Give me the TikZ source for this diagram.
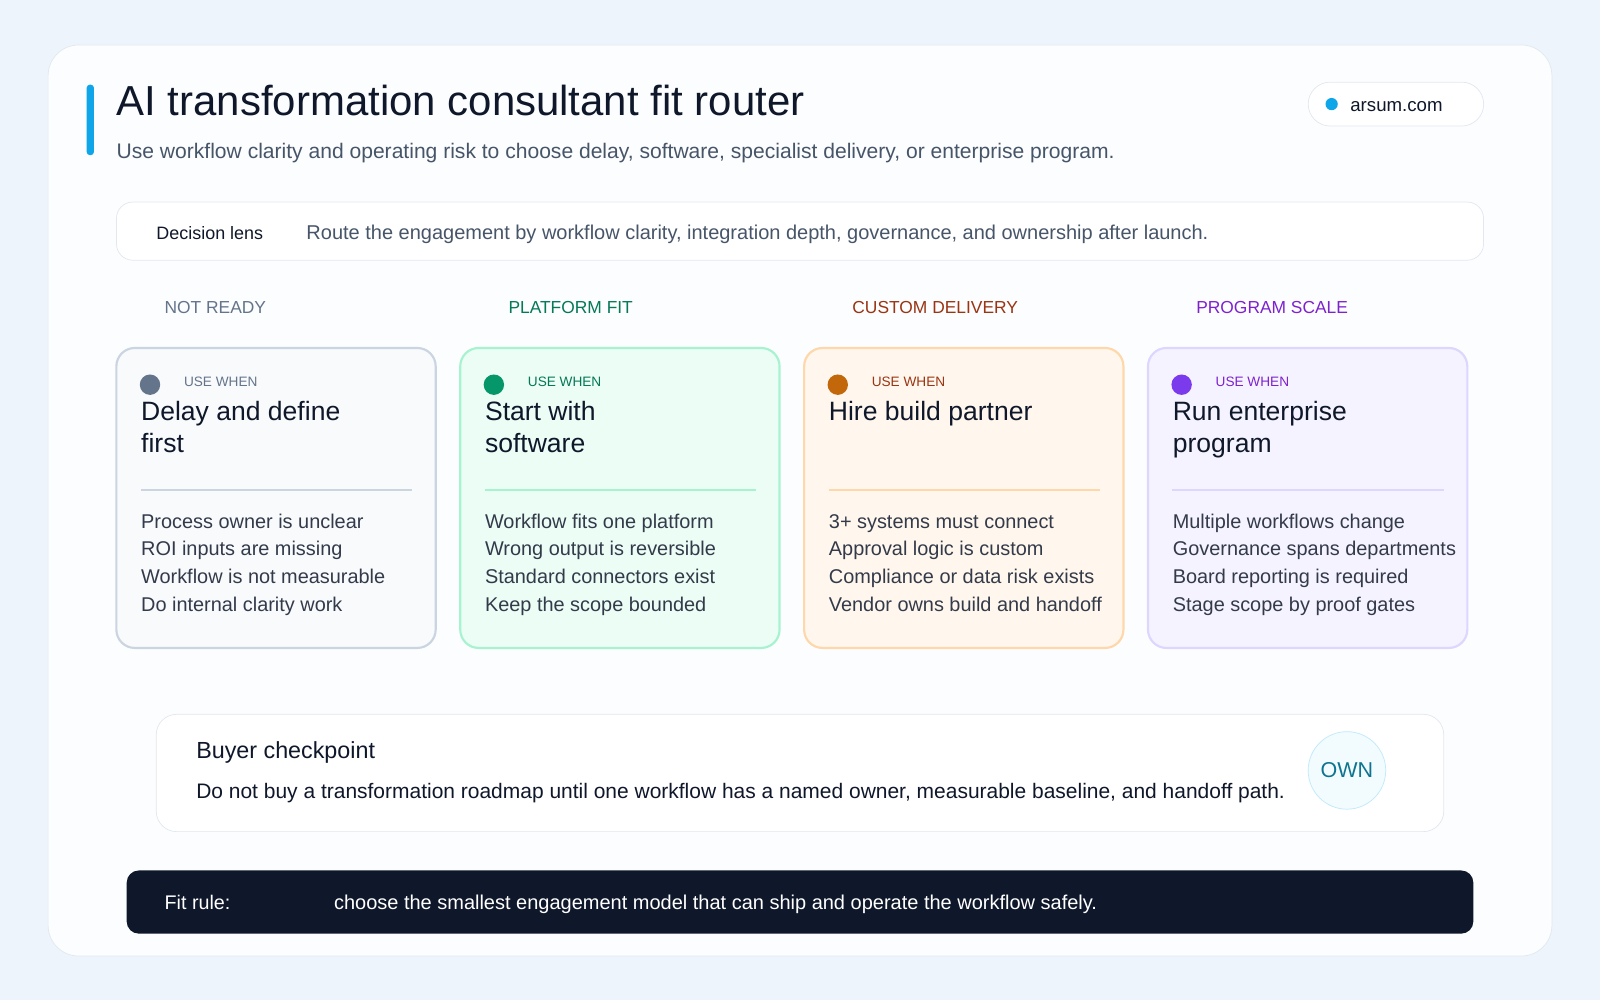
\documentclass[tikz,border=0pt]{standalone}
\usepackage{fontspec}
\setmainfont{Liberation Sans}
\definecolor{bg}{HTML}{EEF4FB}
\definecolor{ink}{HTML}{0F172A}
\definecolor{sub}{HTML}{475569}
\definecolor{line}{HTML}{E2E8F0}
\definecolor{sky}{HTML}{0EA5E9}
\definecolor{gF}{HTML}{F8FAFC}\definecolor{gB}{HTML}{CBD5E1}\definecolor{gD}{HTML}{64748B}
\definecolor{nF}{HTML}{ECFDF5}\definecolor{nB}{HTML}{A7F3D0}\definecolor{nD}{HTML}{059669}
\definecolor{oF}{HTML}{FFF7ED}\definecolor{oB}{HTML}{FED7AA}\definecolor{oD}{HTML}{C2680A}\definecolor{oT}{HTML}{9A3412}
\definecolor{pF}{HTML}{F5F3FF}\definecolor{pB}{HTML}{DDD6FE}\definecolor{pD}{HTML}{7C3AED}\definecolor{pT}{HTML}{7E22CE}
\definecolor{gT}{HTML}{64748B}\definecolor{nT}{HTML}{047857}
\definecolor{tealT}{HTML}{0E7490}
\tikzset{
  txt/.style={anchor=west,inner sep=0pt,text=ink,text height=0.72em,text depth=0.2em},
  body/.style={txt,font=\fontsize{11.1}{13}\selectfont,text=ink!85},
  head/.style={txt,font=\fontsize{9.7}{12}\selectfont},
}
\begin{document}
\begin{tikzpicture}[x=0.02cm,y=-0.02cm]
\fill[bg] (0,0) rectangle (1568,980);
\useasboundingbox (0,0) rectangle (1568,980);
\node[draw=line,fill=white!60!gF,rounded corners=0.6cm,minimum width=29.48cm,minimum height=17.86cm,inner sep=0pt] (panel) at (784,490.5) {};
\fill[sky,rounded corners=0.06cm] (85,83) rectangle (92,152);
\node[txt,font=\fontsize{23.4}{27}\selectfont] (title) at (114,109) {AI transformation consultant fit router};
\node[txt,font=\fontsize{11.75}{14}\selectfont,text=sub] (subt) at (114,151) {Use workflow clarity and operating risk to choose delay, software, specialist delivery, or enterprise program.};
\node[draw=line,fill=white,rounded corners=0.43cm,minimum width=3.44cm,minimum height=0.86cm,inner sep=0pt] (pill) at (1368,102) {};
\fill[sky] (1305,102) circle (6);
\node[txt,font=\fontsize{10.4}{12}\selectfont] (site) at (1323,105) {arsum.com};
\node[draw=line,fill=white,rounded corners=0.32cm,minimum width=26.8cm,minimum height=1.14cm,inner sep=0pt] (lens) at (784,226.5) {};
\node[txt,font=\fontsize{10}{12}\selectfont] (lensl) at (153,230) {Decision lens};
\node[txt,font=\fontsize{11.15}{13}\selectfont,text=sub] (lenst) at (300,230) {Route the engagement by workflow clarity, integration depth, governance, and ownership after launch.};
\foreach \x/\F/\B/\D/\T/\H/\ta/\tb/\la/\lb/\lc/\ld [count=\i] in {
 114/gF/gB/gD/gT/NOT READY/Delay and define/first/Process owner is unclear/ROI inputs are missing/Workflow is not measurable/Do internal clarity work,
 451/nF/nB/nD/nT/PLATFORM FIT/Start with/software/Workflow fits one platform/Wrong output is reversible/Standard connectors exist/Keep the scope bounded,
 788/oF/oB/oD/oT/CUSTOM DELIVERY/Hire build partner//3+ systems must connect/Approval logic is custom/Compliance or data risk exists/Vendor owns build and handoff,
 1125/pF/pB/pD/pT/PROGRAM SCALE/Run enterprise/program/Multiple workflows change/Governance spans departments/Board reporting is required/Stage scope by proof gates}{
 \node[head,text=\T] (h\i) at (\x+47,303) {\H};
 \node[draw=\B,fill=\F,line width=1.2pt,rounded corners=0.36cm,minimum width=6.26cm,minimum height=5.88cm,inner sep=0pt] (c\i) at (\x+156.5,488) {};
 \fill[\D] (\x+33,377) circle (10);
 \node[txt,font=\fontsize{7.6}{9}\selectfont,text=\T] (u\i) at (\x+66,374) {USE WHEN};
 \node[txt,font=\fontsize{14.8}{17}\selectfont] (ta\i) at (\x+24,408) {\ta};
 \node[txt,font=\fontsize{14.8}{17}\selectfont] (tb\i) at (\x+24,439) {\tb};
 \draw[\B,line width=1pt] (\x+24,480) -- (\x+290,480);
 \node[body] (la\i) at (\x+24,513) {\la};
 \node[body] (lb\i) at (\x+24,540) {\lb};
 \node[body] (lc\i) at (\x+24,567) {\lc};
 \node[body] (ld\i) at (\x+24,595) {\ld};
}
\node[draw=line,fill=white,rounded corners=0.4cm,minimum width=25.24cm,minimum height=2.3cm,inner sep=0pt] (buyer) at (784,757.5) {};
\node[txt,font=\fontsize{13}{15}\selectfont] (bt) at (192,739) {Buyer checkpoint};
\node[txt,font=\fontsize{11.7}{13}\selectfont] (bb) at (192,778) {Do not buy a transformation roadmap until one workflow has a named owner, measurable baseline, and handoff path.};
\node[circle,draw=cyan!25,fill=cyan!5,minimum size=1.52cm,inner sep=0pt,font=\fontsize{12}{14}\selectfont,text=tealT] (own) at (1320,755) {OWN};
\node[fill=ink,rounded corners=0.24cm,minimum width=26.4cm,minimum height=1.24cm,inner sep=0pt] (fit) at (784,884) {};
\node[txt,text=white,font=\fontsize{11}{13}\selectfont] (fitl) at (161,887) {Fit rule:};
\node[txt,text=white,font=\fontsize{11.15}{13}\selectfont] (fitt) at (327,887) {choose the smallest engagement model that can ship and operate the workflow safely.};
\end{tikzpicture}
\end{document}
